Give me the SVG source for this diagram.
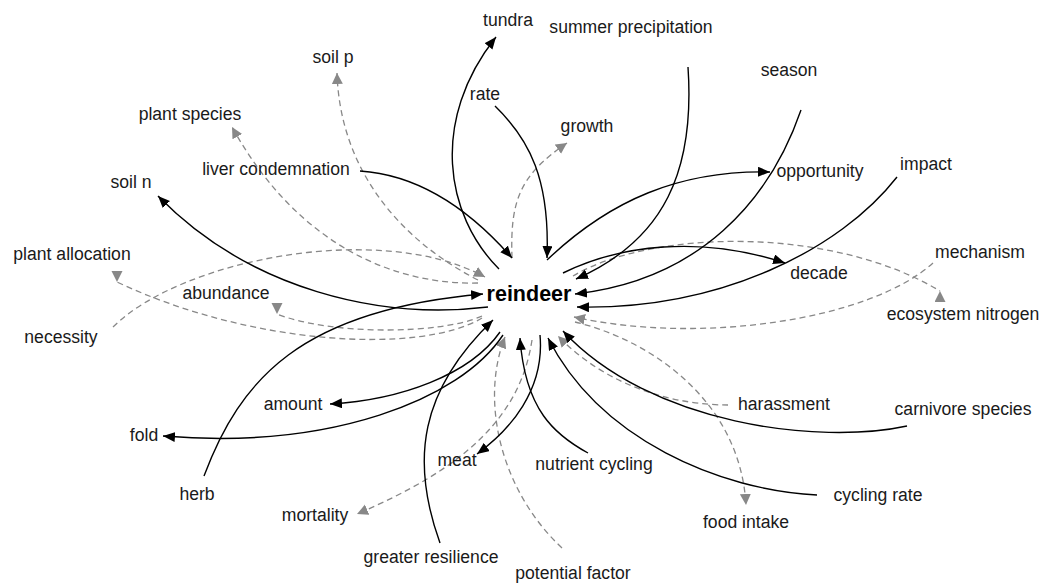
<svg xmlns="http://www.w3.org/2000/svg" width="1055" height="583" viewBox="0 0 1055 583">
<style>
text{font-family:"Liberation Sans",Arial,sans-serif;font-size:17.6px;fill:#1a1a1a;text-anchor:middle}
.main{font-weight:bold;font-size:21.5px;fill:#000}
.s{fill:none;stroke:#000;stroke-width:1.4}
.d{fill:none;stroke:#888;stroke-width:1.3;stroke-dasharray:6 4}
.s{marker-end:url(#ab)}
</style>
<defs>
<marker id="ab" markerUnits="userSpaceOnUse" markerWidth="13" markerHeight="11" refX="12" refY="5" orient="auto"><path d="M0,0 L12,5 L0,10 z" fill="#000"/></marker>
<marker id="ga" markerUnits="userSpaceOnUse" markerWidth="12" markerHeight="12" refX="11" refY="5.5" orient="auto"><path d="M0,0 L11,5.5 L0,11 z" fill="#888"/></marker>
<marker id="gd" markerUnits="userSpaceOnUse" markerWidth="12" markerHeight="12" refX="11" refY="5.5" orient="90"><path d="M0,0 L11,5.5 L0,11 z" fill="#888"/></marker>
<marker id="gu" markerUnits="userSpaceOnUse" markerWidth="12" markerHeight="12" refX="11" refY="5.5" orient="270"><path d="M0,0 L11,5.5 L0,11 z" fill="#888"/></marker>
</defs>
<rect width="1055" height="583" fill="#fff"/>
<g id="edges">
<path class="d" marker-end="url(#ga)" d="M478,280 C400,240 340,170 337,73"/>
<path class="d" marker-end="url(#ga)" d="M478,283 C400,285 300,250 232,127"/>
<path class="d" marker-end="url(#ga)" d="M512,258 C510,200 520,175 567,143"/>
<path class="d" marker-end="url(#gd)" d="M482,318 C420,355 250,345 117,282"/>
<path class="d" marker-end="url(#gd)" d="M482,316 C440,335 330,335 277,314"/>
<path class="d" marker-end="url(#gu)" d="M573,276 C650,230 830,225 940,291"/>
<path class="d" marker-end="url(#ga)" d="M532,340 C520,420 460,470 357,514"/>
<path class="d" marker-end="url(#ga)" d="M575,322 C650,340 740,400 746,505"/>
<path class="d" marker-end="url(#ga)" d="M113,327 C180,260 380,220 485,277"/>
<path class="d" marker-end="url(#ga)" d="M933,263 C870,320 700,345 574,317"/>
<path class="d" marker-end="url(#ga)" d="M728,405 C680,405 610,390 558,336"/>
<path class="d" marker-end="url(#ga)" d="M562,548 C500,490 480,400 505,337"/>
<path class="s" d="M499,269 C445,215 430,120 496,37"/>
<path class="s" d="M495,106 C530,140 550,180 547,258"/>
<path class="s" d="M360,171 C420,175 470,210 512,258"/>
<path class="s" d="M688,67 C695,170 665,240 576,279"/>
<path class="s" d="M801,110 C770,200 700,280 575,294"/>
<path class="s" d="M897,177 C840,250 720,310 577,307"/>
<path class="s" d="M547,260 C610,200 680,170 770,172"/>
<path class="s" d="M563,273 C620,245 700,235 785,263"/>
<path class="s" d="M488,307 C380,320 250,290 158,196"/>
<path class="s" d="M204,476 C240,380 300,310 483,294"/>
<path class="s" d="M500,332 C470,375 400,400 330,404"/>
<path class="s" d="M503,335 C460,400 330,450 163,436"/>
<path class="s" d="M440,543 C410,460 420,390 493,320"/>
<path class="s" d="M540,335 C545,390 510,430 477,454"/>
<path class="s" d="M588,453 C555,435 525,410 520,338"/>
<path class="s" d="M907,426 C820,445 650,425 563,331"/>
<path class="s" d="M817,495 C720,490 600,440 548,338"/>
</g>
<g id="n-reindeer"><text class="main" x="529" y="301">reindeer</text></g>
<g id="n-tundra"><text x="508" y="26">tundra</text></g>
<g id="n-summer-precipitation"><text x="631" y="33">summer precipitation</text></g>
<g id="n-soil-p"><text x="333" y="63">soil p</text></g>
<g id="n-season"><text x="789" y="76">season</text></g>
<g id="n-rate"><text x="485" y="100">rate</text></g>
<g id="n-plant-species"><text x="190" y="120">plant species</text></g>
<g id="n-growth"><text x="587" y="132">growth</text></g>
<g id="n-liver-condemnation"><text x="276" y="175">liver condemnation</text></g>
<g id="n-opportunity"><text x="820" y="177">opportunity</text></g>
<g id="n-impact"><text x="926" y="170">impact</text></g>
<g id="n-soil-n"><text x="131" y="188">soil n</text></g>
<g id="n-plant-allocation"><text x="72" y="260">plant allocation</text></g>
<g id="n-mechanism"><text x="980" y="258">mechanism</text></g>
<g id="n-decade"><text x="819" y="279">decade</text></g>
<g id="n-abundance"><text x="226" y="299">abundance</text></g>
<g id="n-ecosystem-nitrogen"><text x="963" y="320">ecosystem nitrogen</text></g>
<g id="n-necessity"><text x="61" y="343">necessity</text></g>
<g id="n-amount"><text x="293" y="410">amount</text></g>
<g id="n-harassment"><text x="784" y="410">harassment</text></g>
<g id="n-carnivore-species"><text x="963" y="415">carnivore species</text></g>
<g id="n-fold"><text x="144" y="441">fold</text></g>
<g id="n-meat"><text x="457" y="466">meat</text></g>
<g id="n-nutrient-cycling"><text x="594" y="470">nutrient cycling</text></g>
<g id="n-herb"><text x="197" y="500">herb</text></g>
<g id="n-mortality"><text x="315" y="521">mortality</text></g>
<g id="n-cycling-rate"><text x="878" y="501">cycling rate</text></g>
<g id="n-food-intake"><text x="746" y="528">food intake</text></g>
<g id="n-greater-resilience"><text x="431" y="563">greater resilience</text></g>
<g id="n-potential-factor"><text x="573" y="579">potential factor</text></g>
</svg>
